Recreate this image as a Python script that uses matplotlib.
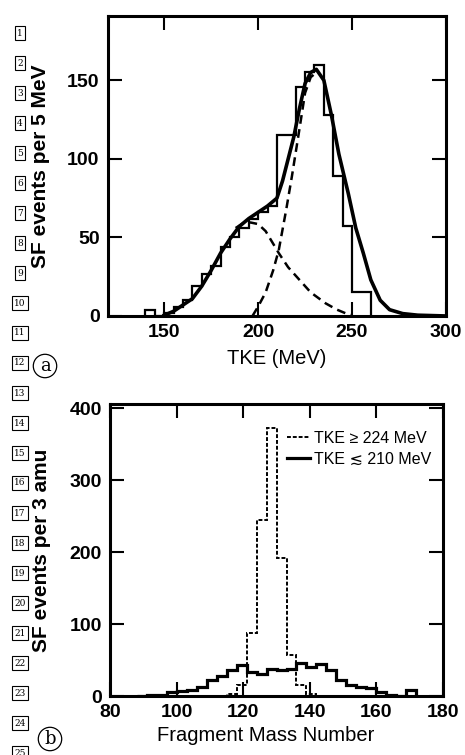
import numpy as np
import matplotlib
matplotlib.use("Agg")
from matplotlib import pyplot as plt

plt.rcParams['font.family'] = ['Liberation Sans', 'DejaVu Sans']

# (a) TKE histogram, 5 MeV bins
tke_edges = np.arange(140, 265, 5)
tke_counts = [4, 0, 2, 6, 10, 19, 27, 32, 44, 50, 56, 62, 66, 70,
              115, 115, 146, 155, 160, 128, 89, 57, 15, 15]

# total fit (solid)
fit_x = [150, 155, 160, 165, 170, 175, 180, 185, 190, 195, 200, 205, 210, 213,
         216, 219, 222, 225, 228, 231, 235, 239, 243, 248, 252, 256, 260, 265,
         270, 277, 285, 300]
fit_y = [0.5, 3, 7, 11, 19, 29, 40, 49, 57, 62, 66, 70, 75, 86,
         100, 114, 132, 148, 155, 157, 150, 128, 103, 78, 56, 40, 23, 10,
         4, 1.5, 0.5, 0]

# low-energy component (dashed)
low_x = [188, 192, 196, 200, 204, 208, 211, 216, 222, 228, 236, 242, 247, 250]
low_y = [56, 59, 59.5, 58.5, 54, 46, 40, 31, 23, 15, 8, 4, 1.5, 0.5]

# high-energy component (dashed)
high_x = [197, 200, 204, 208, 211, 215, 218, 222, 225, 228, 231]
high_y = [0, 6, 15, 29, 42, 68, 89, 119, 142, 152, 155]

# (b) mass distributions, 3 amu bins
mass_edges = np.arange(88, 175, 3)
mass_low_tke = [0, 2, 2, 5, 7, 9, 13, 22, 28, 36, 43, 33, 31, 37,
                36, 38, 46, 40, 44, 36, 22, 16, 13, 11, 5, 1, 0, 8]
mass_high_tke = [0, 0, 0, 0, 0, 0, 0, 0, 0, 3, 16, 88, 245, 372,
                 192, 57, 15, 3, 0, 0, 0, 0, 0, 0, 0, 0, 0, 0]

fig = plt.figure(figsize=(4.65, 7.55), dpi=100)


def style_axes(ax):
    for s in ax.spines.values():
        s.set_linewidth(2.2)
    ax.tick_params(direction='in', length=10, width=1.5, top=True, right=True,
                   labelsize=14, pad=6)
    for lbl in ax.get_xticklabels() + ax.get_yticklabels():
        lbl.set_fontweight('bold')


# panel a
ax1 = fig.add_axes([0.232, 0.5815, 0.727, 0.3974])
ax1.stairs(tke_counts, tke_edges, color='k', lw=1.6)
ax1.plot(fit_x, fit_y, color='k', lw=2.6)
ax1.plot(low_x, low_y, color='k', lw=1.8, dashes=(3.5, 2.2))
ax1.plot(high_x, high_y, color='k', lw=1.8, dashes=(3.5, 2.2))
ax1.set_xlim(120, 300)
ax1.set_ylim(0, 191)
ax1.set_xticks([150, 200, 250, 300])
ax1.set_yticks([0, 50, 100, 150])
style_axes(ax1)
ax1.set_xlabel('TKE (MeV)', fontsize=14.5)
ax1.xaxis.set_label_coords(0.5, -0.11)
ax1.set_ylabel('SF events per 5 MeV', fontsize=15, fontweight='bold')
ax1.yaxis.set_label_coords(-0.17, 0.5)

# panel b
ax2 = fig.add_axes([0.2366, 0.0781, 0.7161, 0.3868])
ax2.stairs(mass_high_tke, mass_edges, color='k', lw=1.4, linestyle=(0, (2, 1)),
           label='TKE \u2265 224 MeV')
ax2.stairs(mass_low_tke, mass_edges, color='k', lw=2.3,
           label='TKE \u2272 210 MeV')
ax2.set_xlim(80, 180)
ax2.set_ylim(0, 406)
ax2.set_xticks([80, 100, 120, 140, 160, 180])
ax2.set_yticks([0, 100, 200, 300, 400])
style_axes(ax2)
ax2.set_xlabel('Fragment Mass Number', fontsize=14.5)
ax2.xaxis.set_label_coords(0.468, -0.103)
ax2.set_ylabel('SF events per 3 amu', fontsize=15, fontweight='bold')
ax2.yaxis.set_label_coords(-0.178, 0.5)
ax2.legend(loc='upper left', bbox_to_anchor=(0.532, 0.908), frameon=False,
           borderpad=0, borderaxespad=0, handlelength=1.45, handletextpad=0.25,
           labelspacing=0.35, fontsize=11.5)

# line numbers in the left margin
for k in range(1, 26):
    y = 33 + 30 * (k - 1)
    fig.text(20 / 465, 1 - y / 755, str(k), fontsize=6.5, family='DejaVu Serif',
             ha='center', va='center',
             bbox=dict(boxstyle='square,pad=0.25', fc='white', ec='k', lw=0.8))

# panel letters
fig.text(45 / 465, 1 - 366 / 755, 'a', fontsize=13, family='DejaVu Serif',
         ha='center', va='center',
         bbox=dict(boxstyle='circle,pad=0.15', fc='none', ec='k', lw=0.9))
fig.text(50 / 465, 1 - 739 / 755, 'b', fontsize=13, family='DejaVu Serif',
         ha='center', va='center',
         bbox=dict(boxstyle='circle,pad=0.15', fc='none', ec='k', lw=0.9))

fig.savefig('out.png', dpi=100)
